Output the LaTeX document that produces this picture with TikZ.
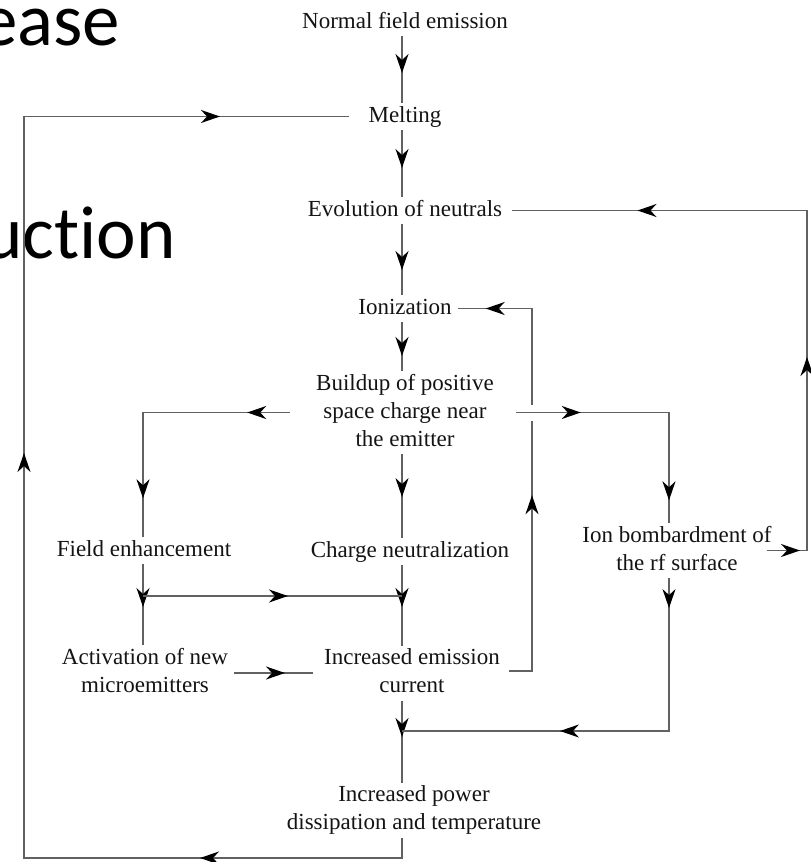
\documentclass[tikz,border=0pt]{standalone}
\usepackage{fontspec}
\setmainfont{Liberation Serif}
\newfontfamily\slidefont[Ligatures=NoCommon]{Carlito}
\usetikzlibrary{arrows.meta,decorations.markings,calc}
\newcommand\mytip{\arrow{Stealth[length=19pt,width=13pt,inset=6pt,color=black]}}
\newcommand\stt{\rule[-5pt]{0pt}{21pt}}
\tikzset{
  lbl/.style={font=\fontsize{23}{28}\selectfont, align=center, inner sep=3pt, outer sep=0pt, text=black!92},
  one/.style={lbl, text height=16pt, text depth=5pt},
  conn/.style={draw=black!62, line width=1.4pt},
  tips/.style={postaction={decorate}, decoration={markings, #1}},
  frag/.style={anchor=base west, inner sep=0pt, font=\slidefont\fontsize{75}{75}\selectfont, text=black}
}
\begin{document}
\begin{tikzpicture}[x=1pt,y=-1pt]
\useasboundingbox (0,0) rectangle (811,862);
\fill[white] (0,0) rectangle (811,862);
\clip (0,0) rectangle (811,862);

% slide text fragments
\node[frag] (fr1) at (-20,45) {ease};
\node[frag] (fr2) at (-17,258) {uction};

% column coordinates
\coordinate (col) at (402,0);
\coordinate (lc) at (143,0);
\coordinate (ec) at (532,0);
\coordinate (rc) at (669,0);
\coordinate (rr) at (807,0);

% nodes
\node[one] (nfe) at (405,22.5) {Normal field emission};
\node[one] (melt) at (405,116.5) {Melting};
\node[one] (evo) at (405,210.5) {Evolution of neutrals};
\node[one] (ion) at (405,308.5) {Ionization};
\node[lbl] (build) at (405,412.5) {\stt Buildup of positive\\space charge near\\\stt the emitter};
\node[one] (charge) at (410,551.5) {Charge neutralization};
\node[one] (field) at (144,550.5) {Field enhancement};
\node[lbl] (act) at (145,673) {\stt Activation of new\\\stt microemitters};
\node[lbl] (inc) at (412,673) {\stt Increased emission\\\stt current};
\node[lbl] (ionb) at (677,550.5) {\stt Ion bombardment of\\\stt the rf surface};
\node[lbl] (power) at (414,810) {\stt Increased power\\\stt dissipation and temperature};

% junction coordinates
\coordinate (j1) at (143,596);
\coordinate (j2) at (402,596);
\coordinate (j3) at (669,731);
\coordinate (j4) at (402,731);
\coordinate (j5) at (402,858);
\coordinate (j6) at (24,858);

% main column
\path[conn, tips={mark=at position 37pt with {\mytip}}] (nfe.south -| col) -- (melt.north -| col);
\path[conn, tips={mark=at position 38pt with {\mytip}}] (melt.south -| col) -- (evo.north -| col);
\path[conn, tips={mark=at position 46pt with {\mytip}}] (evo.south -| col) -- (ion.north -| col);
\path[conn, tips={mark=at position 34pt with {\mytip}}] (ion.south -| col) -- (build.north -| col);
\path[conn, tips={mark=at position 43pt with {\mytip}}] (build.south -| col) -- (charge.north -| col);
\path[conn, tips={mark=at position 42pt with {\mytip}}] (charge.south -| col) -- (inc.north -| col);
\path[conn, tips={mark=at position 36.5pt with {\mytip}}] (inc.south -| col) -- (power.north -| col);

% increased emission current back to ionization
\path[conn, tips={mark=at position 199pt with {\mytip}, mark=at position 432pt with {\mytip}}]
  ($(inc.east)+(6,-2)$) -- ($(inc.east -| ec)+(0,-2)$) -- (ion.east -| ec) -- ($(ion.east)+(3,0)$);

% buildup to field enhancement
\path[conn, tips={mark=at position 43pt with {\mytip}, mark=at position 233pt with {\mytip}}]
  ($(build.west)+(-23,0)$) -- (build.west -| lc) -- (field.north -| lc);

% buildup to ion bombardment (crosses the return line)
\path[conn, preaction={draw=white, line width=16pt},
      tips={mark=at position 65pt with {\mytip}, mark=at position 241pt with {\mytip}}]
  ($(build.east)+(19,0)$) -- (build.east -| rc) -- (ionb.north -| rc);

% ion bombardment to evolution of neutrals
\path[conn, tips={mark=at position 33.5pt with {\mytip}, mark=at position 234pt with {\mytip}, mark=at position 550pt with {\mytip}}]
  ($(ionb.east)+(-8,0)$) -- (ionb.east -| rr) -- (evo.east -| rr) -- ($(evo.east)+(7,0)$);

% field enhancement branch
\path[conn, tips={mark=at position 43pt with {\mytip}}] (field.south -| lc) -- (act.north -| lc);
\path[conn, tips={mark=at position 145pt with {\mytip}}] (j1) -- (j2);
\path[conn, tips={mark=at position 51pt with {\mytip}}] ($(act.east)+(3,0)$) -- ($(inc.west)+(-8,0)$);

% ion bombardment down to power
\path[conn, tips={mark=at position 30pt with {\mytip}, mark=at position 262pt with {\mytip}}]
  (ionb.south -| rc) -- (j3) -- (j4);

% power back to melting
\path[conn, tips={mark=at position 222.5pt with {\mytip}, mark=at position 803.5pt with {\mytip}, mark=at position 1336pt with {\mytip}}]
  (power.south -| col) -- (j5) -- (j6) -- (j6 |- melt.west) -- ($(melt.west)+(-17,0)$);
\end{tikzpicture}
\end{document}
